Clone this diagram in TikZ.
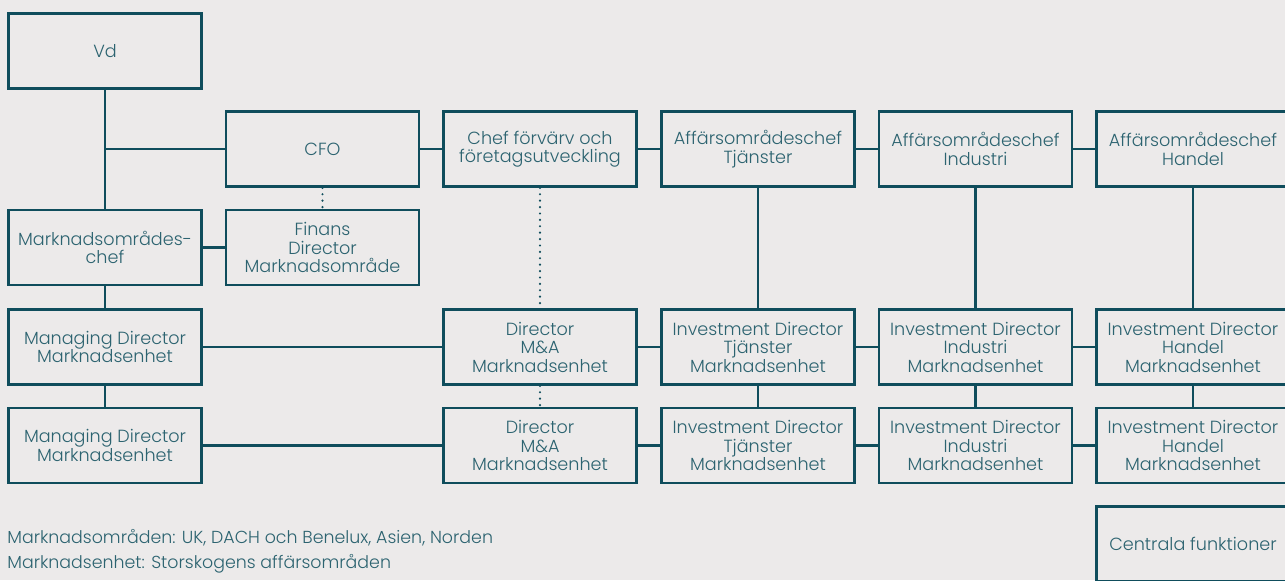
\documentclass[tikz,border=0pt]{standalone}
\usepackage{fontspec}
\setmainfont{Poppins}[UprightFont=* Light]
\definecolor{orgline}{HTML}{0F4D5C}
\definecolor{orgtext}{HTML}{2C6370}
\definecolor{orgbg}{HTML}{ECEAEA}
\begin{document}
\begin{tikzpicture}[x=0.5pt, y=-0.5pt,
    role/.style={draw=orgline, line width=1.35pt, minimum width=96.5pt, minimum height=37.5pt,
                 inner sep=1pt, align=center, text=orgtext,
                 font=\fontsize{8.8pt}{9.25pt}\selectfont},
    link/.style={draw=orgline, line width=1.35pt},
    dotlink/.style={draw=orgline, line width=1.2pt, line cap=round, dash pattern=on 0pt off 3.2pt},
    note/.style={anchor=base west, inner sep=0pt, text=orgtext, font=\fontsize{8.7pt}{9.25pt}\selectfont}]
    % Background
    \fill[orgbg] (0,0) rectangle (1285,580);
    \useasboundingbox (0,0) rectangle (1285,580);

    % Top row
    \node[role] (vd) at (105,51) {Vd};
    \node[role] (cfo) at (322.5,149) {CFO};
    \node[role] (chef) at (540,149) {Chef förvärv och\\företagsutveckling};
    \node[role] (tj) at (758,149) {Affärsområdeschef\\Tjänster};
    \node[role] (ind) at (975.5,149) {Affärsområdeschef\\Industri};
    \node[role] (han) at (1193,149) {Affärsområdeschef\\Handel};

    % Market area
    \node[role] (mo) at (105,247.5) {Marknadsområdes-\\chef};
    \node[role] (fin) at (322.5,247.5) {Finans\\Director\\Marknadsområde};

    % Market units
    \foreach \r/\y in {1/347, 2/445.5} {
        \node[role] (md\r) at (105,\y) {Managing Director\\Marknadsenhet};
        \node[role] (dir\r) at (540,\y) {Director\\M\&A\\Marknadsenhet};
        \node[role] (ivt\r) at (758,\y) {Investment Director\\Tjänster\\Marknadsenhet};
        \node[role] (ivi\r) at (975.5,\y) {Investment Director\\Industri\\Marknadsenhet};
        \node[role] (ivh\r) at (1193,\y) {Investment Director\\Handel\\Marknadsenhet};
    }
    \node[role] (central) at (1193,544) {Centrala funktioner};

    % Solid connectors
    \draw[link] (vd) -- (mo);
    \draw[link] (cfo.west) -- (cfo.west -| vd.south);
    \draw[link] (cfo) -- (chef) (chef) -- (tj) (tj) -- (ind) (ind) -- (han);
    \draw[link] (mo) -- (fin);
    \draw[link] (mo) -- (md1) (md1) -- (md2);
    \draw[link] (tj) -- (ivt1) (ind) -- (ivi1) (han) -- (ivh1);
    \foreach \r in {1,2} {
        \draw[link] (md\r) -- (dir\r) (dir\r) -- (ivt\r) (ivt\r) -- (ivi\r) (ivi\r) -- (ivh\r);
    }
    \draw[link] (ivt1) -- (ivt2) (ivi1) -- (ivi2) (ivh1) -- (ivh2);

    % Dotted connectors
    \draw[dotlink] (cfo) -- (fin);
    \draw[dotlink] (chef) -- (dir1);
    \draw[dotlink] (dir1) -- (dir2);

    % Notes
    \node[note] (note1) at (7,543) {Marknadsområden: UK, DACH och Benelux, Asien, Norden};
    \node[note] (note2) at (7,568) {Marknadsenhet: Storskogens affärsområden};
\end{tikzpicture}
\end{document}
